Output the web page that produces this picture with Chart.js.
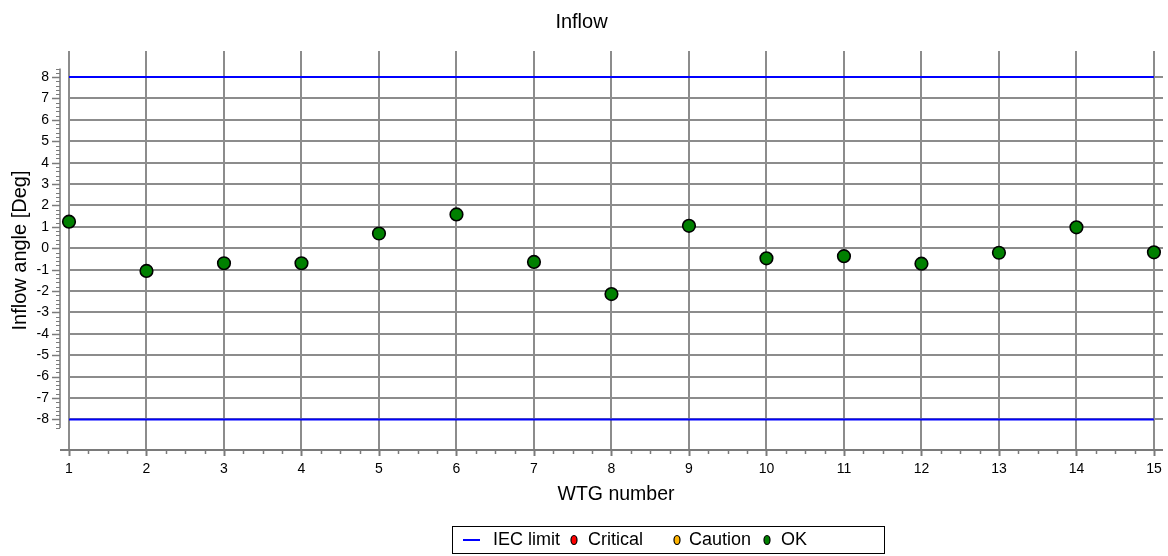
<!DOCTYPE html>
<html><head><meta charset="utf-8">
<script src="https://cdn.jsdelivr.net/npm/chart.js@4.4.1/dist/chart.umd.min.js"></script>
<style>html,body{margin:0;padding:0;background:#fff;}canvas{display:block;}</style>
</head><body>
<canvas id="c" width="1168" height="556"></canvas>
<script>
// ---- data ----
const wtgNumbers = [1,2,3,4,5,6,7,8,9,10,11,12,13,14,15];
const inflowAngles = [1.24,-1.06,-0.70,-0.70,0.69,1.58,-0.64,-2.14,1.05,-0.47,-0.37,-0.72,-0.21,0.98,-0.19];
const criticalAngles = [];
const cautionAngles = [];
const iecLimitUpper = [8,8];
const iecLimitLower = [-8,-8];
const iecLimitX = [1,15];
const yTickValues = [-8,-7,-6,-5,-4,-3,-2,-1,0,1,2,3,4,5,6,7,8];
const xTickValues = wtgNumbers;
const legendLabels = ['IEC limit','Critical','Caution','OK'];

const FONT = "'Liberation Sans', Arial, sans-serif";
Chart.defaults.font.family = FONT;
Chart.defaults.color = '#000';

const GRID = '#8c8c8c';

const axisDecor = {
  id: 'axisDecor',
  afterDraw(chart) {
    const ctx = chart.ctx, xs = chart.scales.x, ys = chart.scales.y, a = chart.chartArea;
    ctx.save();
    ctx.strokeStyle = '#7a7a7a';
    const axX = a.left - 9;
    const yTop = ys.getPixelForValue(8.4), yBot = ys.getPixelForValue(-8.4);
    ctx.lineWidth = 1.5;
    ctx.beginPath(); ctx.moveTo(axX, yTop); ctx.lineTo(axX, yBot); ctx.stroke();
    for (let i = -42; i <= 42; i++) {
      const v = i / 5;
      const py = Math.round(ys.getPixelForValue(v)) + 0.5;
      const major = (i % 5 === 0) && Math.abs(v) <= 8;
      ctx.lineWidth = major ? 1.5 : 1;
      ctx.beginPath(); ctx.moveTo(axX - (major ? 8 : 4), py); ctx.lineTo(axX, py); ctx.stroke();
    }
    ctx.lineWidth = 2;
    ctx.beginPath(); ctx.moveTo(axX, a.bottom); ctx.lineTo(a.right, a.bottom); ctx.stroke();
    for (let i = 4; i <= 60; i++) {
      const v = i / 4;
      const px = Math.round(xs.getPixelForValue(v)) + 0.5;
      const major = i % 4 === 0;
      ctx.lineWidth = major ? 2 : 1.5;
      ctx.beginPath(); ctx.moveTo(px, a.bottom); ctx.lineTo(px, a.bottom + (major ? 6 : 4)); ctx.stroke();
    }
    // legend
    const cy = 540;
    ctx.strokeStyle = '#000'; ctx.lineWidth = 1;
    ctx.strokeRect(452.5, 526.5, 432, 27);
    ctx.font = '18px ' + FONT; ctx.fillStyle = '#000'; ctx.textBaseline = 'middle'; ctx.textAlign = 'left';
    const ds = chart.data.datasets;
    ctx.strokeStyle = ds[0].borderColor; ctx.lineWidth = 2;
    ctx.beginPath(); ctx.moveTo(463, cy); ctx.lineTo(480, cy); ctx.stroke();
    ctx.fillText(legendLabels[0], 493, cy);
    const items = [[574, 588, ds[2]], [677, 689, ds[3]], [767, 781, ds[4]]];
    items.forEach(([dx, tx, d], k) => {
      ctx.beginPath(); ctx.ellipse(dx, cy, 3, 4.5, 0, 0, Math.PI * 2);
      ctx.fillStyle = d.backgroundColor; ctx.fill();
      ctx.strokeStyle = '#000'; ctx.lineWidth = 1.2; ctx.stroke();
      ctx.fillStyle = '#000';
      ctx.fillText(legendLabels[k + 1], tx, cy);
    });
    ctx.restore();
  }
};

const toPts = (xsArr, ysArr) => xsArr.map((x, i) => ({x, y: ysArr[i]}));

new Chart(document.getElementById('c'), {
  type: 'scatter',
  data: {
    datasets: [
      {label: legendLabels[0], type: 'line', data: toPts(iecLimitX, iecLimitUpper), borderColor: '#0000ff', borderWidth: 2, pointRadius: 0, order: 3},
      {label: legendLabels[0], type: 'line', data: toPts(iecLimitX, iecLimitLower), borderColor: '#0000ff', borderWidth: 2, pointRadius: 0, order: 3},
      {label: legendLabels[1], data: criticalAngles, backgroundColor: '#ff0000', borderColor: '#000'},
      {label: legendLabels[2], data: cautionAngles, backgroundColor: '#ffb400', borderColor: '#000'},
      {label: legendLabels[3], data: toPts(wtgNumbers, inflowAngles), backgroundColor: '#008000', borderColor: '#000', borderWidth: 1.6, pointRadius: 6.3, pointHoverRadius: 6.3, clip: false, order: 0}
    ]
  },
  options: {
    responsive: false, animation: false, devicePixelRatio: 1,
    layout: {autoPadding: false, padding: {left: 0, right: 5, top: 0, bottom: 46}},
    plugins: {
      legend: {display: false},
      tooltip: {enabled: false},
      title: {display: true, text: 'Inflow', color: '#000', font: {size: 20, weight: 'normal'}, padding: {top: 10.5, bottom: 16.5}}
    },
    scales: {
      x: {
        type: 'linear', min: 1, max: 15.117,
        afterBuildTicks: s => { s.ticks = xTickValues.map(v => ({value: v})); },
        afterFit: s => { s.height = 60; s.paddingLeft = 0; s.paddingRight = 0; },
        ticks: {font: {size: 14}, padding: 11, autoSkip: false, maxRotation: 0, color: '#000'},
        grid: {color: GRID, lineWidth: 2, drawTicks: false},
        border: {display: false},
        title: {display: true, text: 'WTG number', color: '#000', font: {size: 19.5}, padding: {top: 0, bottom: 4}}
      },
      y: {
        type: 'linear', min: -9.43, max: 9.22,
        afterBuildTicks: s => { s.ticks = yTickValues.map(v => ({value: v})); },
        afterFit: s => { s.width = 69; s.paddingTop = 0; s.paddingBottom = 0; },
        ticks: {font: {size: 14}, padding: 20, color: '#000'},
        grid: {color: GRID, lineWidth: 2, drawTicks: false},
        border: {display: false},
        title: {display: true, text: 'Inflow angle [Deg]', color: '#000', font: {size: 20}, padding: {top: 8.6, bottom: 0}}
      }
    }
  },
  plugins: [axisDecor]
});
</script>
</body></html>
